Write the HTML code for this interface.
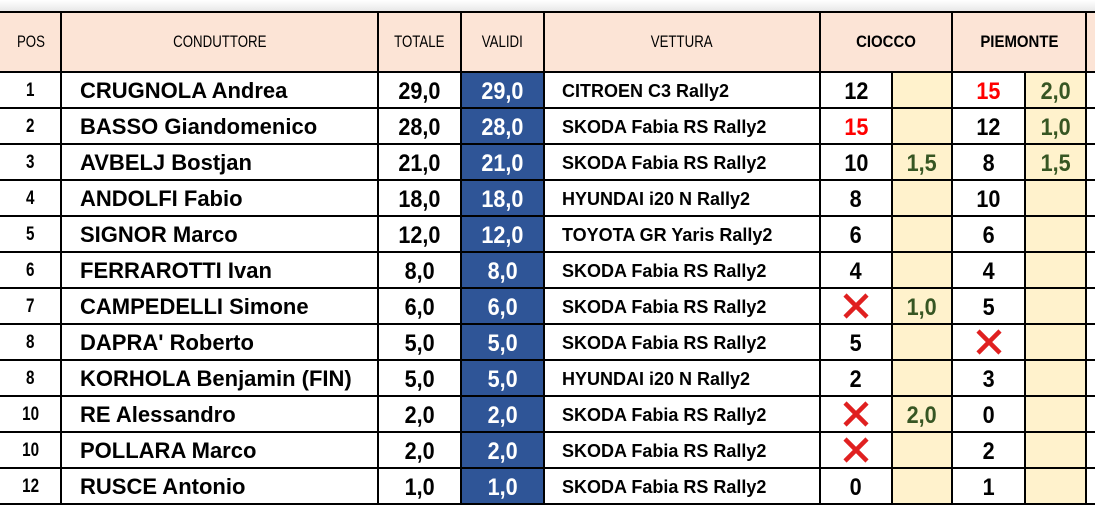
<!DOCTYPE html>
<html><head><meta charset="utf-8">
<style>
body{margin:0;width:1095px;height:506px;overflow:hidden;background:#fff;font-family:"Liberation Sans",sans-serif;position:relative}
.shadow{position:absolute;left:0;top:0;width:1095px;height:12px;background:linear-gradient(#fff,#e6e6e6)}
.c{position:absolute;box-sizing:border-box;display:flex;align-items:center;justify-content:center;white-space:nowrap;color:#000}
.c span{display:inline-block}
.vl{position:absolute;width:2px;background:#000}
.hl{position:absolute;height:2px;background:#000;left:0;width:1095px}
</style></head><body>
<div class="shadow"></div>
<div id="t"></div>
<script>
const pos=["1","2","3","4","5","6","7","8","8","10","10","12"];
const names=["CRUGNOLA Andrea","BASSO Giandomenico","AVBELJ Bostjan","ANDOLFI Fabio","SIGNOR Marco","FERRAROTTI Ivan","CAMPEDELLI Simone","DAPRA' Roberto","KORHOLA Benjamin (FIN)","RE Alessandro","POLLARA Marco","RUSCE Antonio"];
const totals=["29,0","28,0","21,0","18,0","12,0","8,0","6,0","5,0","5,0","2,0","2,0","1,0"];
const validi=["29,0","28,0","21,0","18,0","12,0","8,0","6,0","5,0","5,0","2,0","2,0","1,0"];
const cars=["CITROEN C3 Rally2","SKODA Fabia RS Rally2","SKODA Fabia RS Rally2","HYUNDAI i20 N Rally2","TOYOTA GR Yaris Rally2","SKODA Fabia RS Rally2","SKODA Fabia RS Rally2","SKODA Fabia RS Rally2","HYUNDAI i20 N Rally2","SKODA Fabia RS Rally2","SKODA Fabia RS Rally2","SKODA Fabia RS Rally2"];
const ciocco=["12","15","10","8","6","4","X","5","2","X","X","0"];
const cioccoB=["","","1,5","","","","1,0","","","2,0","",""];
const piemonte=["15","12","8","10","6","4","5","X","3","0","2","1"];
const piemonteB=["2,0","1,0","1,5","","","","","","","","",""];
const T=document.getElementById('t');
const xs=[0,61,378,461,544,820,892,952,1025,1086,1095];
const top0=12,hh=60,rh=36;
function cell(x,y,w,h,txt,css,name,sx){const d=document.createElement('div');d.className='c';d.style.cssText=`left:${x}px;top:${y}px;width:${w}px;height:${h}px;`+css;
const s=document.createElement('span');s.textContent=txt;if(sx){s.style.transform='scaleX('+sx+')';s.style.transformOrigin=d.style.justifyContent=='flex-start'?'left center':'center';}
d.appendChild(s);


T.appendChild(d);return d;}
const heads=[["POS",0,1],["CONDUTTORE",1,2],["TOTALE",2,3],["VALIDI",3,4],["VETTURA",4,5],["CIOCCO",5,7],["PIEMONTE",7,9],["",9,10]];
heads.forEach(([t,a,b])=>{const bold=(t=="CIOCCO"||t=="PIEMONTE");cell(xs[a],top0,xs[b]-xs[a],hh,t,'background:#fce4d6;font-size:17px;'+(bold?'font-weight:bold;':''),"header-"+(t||"extra").toLowerCase(),bold?0.88:0.78);});
const num='font-weight:bold;font-size:24px;padding-top:3px;';
for(let i=0;i<pos.length;i++){const y=top0+hh+i*rh;
cell(0,y,61,rh,pos[i],'font-size:19px;font-weight:bold;padding-top:2px;','pos-cell',0.8);
cell(61,y,317,rh,names[i],'justify-content:flex-start;padding-left:19px;padding-top:2px;font-weight:bold;font-size:22px;','driver-name',1.0);
cell(378,y,83,rh,totals[i],num,'total-points',0.9);
cell(461,y,83,rh,validi[i],num+'background:#2f5597;color:#fff;','valid-points',0.9);
cell(544,y,276,rh,cars[i],'justify-content:flex-start;padding-left:18px;padding-top:2px;font-weight:bold;font-size:18px;','car-name',1.0);
const mk=(x,w,v,nm)=>{if(v=="X"){const d=cell(x,y,w,rh,'','','cross-mark');d.innerHTML='<svg width="28" height="28" viewBox="0 0 28 28"><path d="M3 3L25 25M25 3L3 25" stroke="#e02020" stroke-width="4.5"/></svg>';}else{cell(x,y,w,rh,v,num+(v=="15"?'color:#f00;':''),nm,0.9);}};
mk(820,72,ciocco[i],'ciocco-points');
cell(892,y,60,rh,cioccoB[i],num+'background:#fff2cc;color:#375623;','ciocco-bonus',0.9);
mk(952,73,piemonte[i],'piemonte-points');
cell(1025,y,61,rh,piemonteB[i],num+'background:#fff2cc;color:#375623;','piemonte-bonus',0.9);
}
for(let i=0;i<=12;i++){const l=document.createElement('div');l.className='hl';l.style.top=(top0+hh+i*rh-1)+'px';


T.appendChild(l);}
const tl=document.createElement('div');tl.className='hl';tl.style.top=(top0-1)+'px';


T.appendChild(tl);
[61,378,461,544,820,952,1086].forEach(x=>{const v=document.createElement('div');v.className='vl';v.style.cssText=`left:${x-1}px;top:${top0}px;height:${hh+12*rh}px`;


T.appendChild(v);});
[892,1025].forEach(x=>{const v=document.createElement('div');v.className='vl';v.style.cssText=`left:${x-1}px;top:${top0+hh}px;height:${12*rh}px`;


T.appendChild(v);});
</script>
</body></html>
